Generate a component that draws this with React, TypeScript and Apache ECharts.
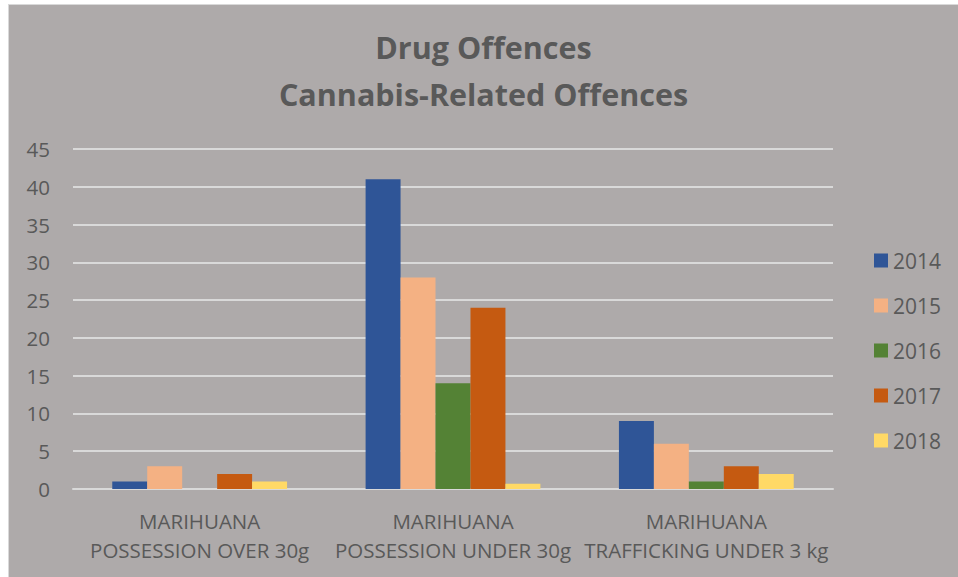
import React, { useEffect, useRef } from "react";
import * as echarts from "echarts";

const categories = [
  "MARIHUANA\nPOSSESSION OVER 30g",
  "MARIHUANA\nPOSSESSION UNDER 30g",
  "MARIHUANA\nTRAFFICKING UNDER 3 kg",
];
const years = ["2014", "2015", "2016", "2017", "2018"];
const values2014 = [1, 41, 9];
const values2015 = [3, 28, 6];
const values2016 = [0, 14, 1];
const values2017 = [2, 24, 3];
const values2018 = [1, 0.7, 2];
const colors = ["#2F5597", "#F4B183", "#548235", "#C55A11", "#FFD966"];

const FONT = "'Open Sans', sans-serif";

export default function App() {
  const ref = useRef<HTMLDivElement>(null);
  useEffect(() => {
    if (!ref.current) return;
    const chart = echarts.init(ref.current, undefined, { renderer: "svg" });
    const seriesData = [values2014, values2015, values2016, values2017, values2018];
    chart.setOption({
      animation: false,
      backgroundColor: "#AEAAAA",
      textStyle: { fontFamily: FONT },
      title: {
        text: "Drug Offences\nCannabis-Related Offences",
        left: "center",
        top: 13,
        textStyle: {
          fontFamily: FONT,
          fontSize: 30.5,
          fontWeight: "bold",
          color: "#595959",
          lineHeight: 47,
        },
      },
      legend: {
        orient: "vertical",
        left: 860,
        top: 240,
        itemWidth: 14,
        itemHeight: 14,
        itemGap: 24,
        icon: "rect",
        data: years,
        textStyle: { fontFamily: FONT, fontSize: 21, color: "#595959" },
      },
      grid: { left: 64, right: 125, top: 144, bottom: 88, containLabel: false },
      xAxis: {
        type: "category",
        data: categories,
        axisLine: { show: true, lineStyle: { color: "#D9D9D9", width: 2 } },
        axisTick: { show: false },
        axisLabel: {
          color: "#595959",
          fontFamily: FONT,
          fontSize: 20.5,
          lineHeight: 29,
          margin: 17,
          interval: 0,
        },
      },
      yAxis: {
        type: "value",
        min: 0,
        max: 45,
        interval: 5,
        axisLine: { show: false },
        axisTick: { show: false },
        splitLine: { lineStyle: { color: "#D9D9D9", width: 2 } },
        axisLabel: { color: "#595959", fontFamily: FONT, fontSize: 20.5, margin: 23 },
      },
      series: years.map((y, i) => ({
        name: y,
        type: "bar",
        data: seriesData[i],
        barGap: "0%",
        barCategoryGap: "31%",
        itemStyle: { color: colors[i] },
      })),
    });
    return () => chart.dispose();
  }, []);
  return (
    <div style={{ position: "fixed", left: 0, top: 0, width: 958, height: 577, background: "#ffffff", overflow: "hidden" }}>
      <div
        style={{
          position: "absolute",
          left: 8,
          top: 4,
          width: 950,
          height: 573,
          border: "1px solid #D9D9D9",
          borderRight: "none",
          borderBottom: "none",
        }}
      >
        <div ref={ref} style={{ width: 949, height: 572 }} />
      </div>
    </div>
  );
}
